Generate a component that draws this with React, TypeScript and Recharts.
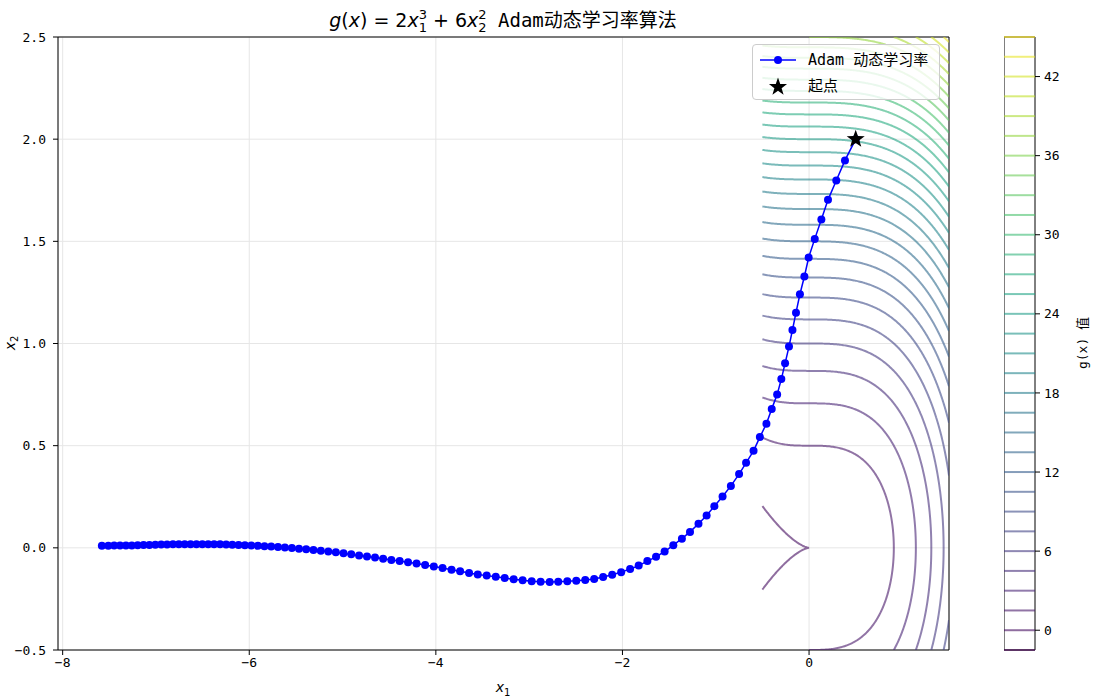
import React from 'react'
import {
  ScatterChart,
  Scatter,
  XAxis,
  YAxis,
  CartesianGrid,
  ReferenceLine,
  ReferenceArea,
  Legend,
  ComposedChart,
} from 'recharts'

// Adam trajectory (x1, x2)
const pathX = [
  0.5, 0.385, 0.292, 0.203, 0.132, 0.061, -0.004, -0.05, -0.098, -0.14, -0.178, -0.215, -0.257, -0.297,
  -0.342, -0.4, -0.457, -0.527, -0.595, -0.675, -0.75, -0.838, -0.927, -1.015, -1.098, -1.185, -1.276,
  -1.363, -1.455, -1.548, -1.64, -1.733, -1.826, -1.918, -2.014, -2.11, -2.207, -2.303, -2.399, -2.495,
  -2.591, -2.688, -2.78, -2.877, -2.973, -3.07, -3.166, -3.262, -3.358, -3.455, -3.551, -3.644, -3.74,
  -3.832, -3.928, -4.022, -4.115, -4.207, -4.298, -4.388, -4.477, -4.565, -4.652, -4.738, -4.823, -4.907,
  -4.99, -5.072, -5.153, -5.233, -5.312, -5.39, -5.467, -5.543, -5.618, -5.692, -5.765, -5.837, -5.908,
  -5.978, -6.047, -6.115, -6.182, -6.248, -6.313, -6.377, -6.44, -6.503, -6.566, -6.629, -6.692, -6.755,
  -6.818, -6.881, -6.944, -7.007, -7.07, -7.133, -7.196, -7.259, -7.322, -7.385, -7.448, -7.511, -7.58,
]
const pathY = [
  2.0, 1.896, 1.798, 1.703, 1.607, 1.512, 1.421, 1.328, 1.241, 1.151, 1.066, 0.985, 0.903, 0.826,
  0.75, 0.68, 0.607, 0.542, 0.475, 0.416, 0.361, 0.303, 0.251, 0.204, 0.158, 0.118, 0.078,
  0.045, 0.013, -0.018, -0.044, -0.065, -0.087, -0.104, -0.119, -0.132, -0.143, -0.152, -0.157, -0.161,
  -0.164, -0.166, -0.167, -0.166, -0.163, -0.159, -0.154, -0.148, -0.142, -0.136, -0.13, -0.123, -0.115,
  -0.107, -0.099, -0.091, -0.084, -0.077, -0.071, -0.065, -0.059, -0.053, -0.047, -0.042, -0.037, -0.032,
  -0.027, -0.022, -0.018, -0.014, -0.01, -0.007, -0.004, -0.001, 0.002, 0.004, 0.006, 0.008, 0.01,
  0.012, 0.013, 0.014, 0.015, 0.016, 0.017, 0.017, 0.018, 0.018, 0.018, 0.018, 0.018, 0.017,
  0.017, 0.016, 0.016, 0.015, 0.014, 0.014, 0.013, 0.012, 0.012, 0.011, 0.011, 0.01, 0.01,
]
const startPoint = [{ x: 0.5, y: 2.0 }]

// contour levels as on the colorbar
const LEVELS = [
  -1.5, 0, 1.5, 3, 4.5, 6, 7.5, 9, 10.5, 12, 13.5, 15, 16.5, 18, 19.5, 21, 22.5, 24, 25.5, 27, 28.5, 30,
  31.5, 33, 34.5, 36, 37.5, 39, 40.5, 42, 43.5, 45,
]
const xTicks = [-8, -6, -4, -2, 0]
const yTicks = [-0.5, 0, 0.5, 1, 1.5, 2, 2.5]
const cbTicks = [0, 6, 12, 18, 24, 30, 36, 42]

// contour grid extent
const X1_MIN = -0.5
const X1_MAX = 1.5
const X2_MIN = -0.5
const X2_MAX = 2.5

const VIRIDIS = ['#440154', '#482475', '#414487', '#355f8d', '#2a788e', '#21918c', '#22a884', '#44bf70', '#7ad151', '#bddf26', '#fde725']

const levelColor = (c: number) => {
  const t = (c - LEVELS[0]) / (LEVELS[LEVELS.length - 1] - LEVELS[0])
  const p = Math.max(0, Math.min(1, t)) * (VIRIDIS.length - 1)
  const i = Math.min(VIRIDIS.length - 2, Math.floor(p))
  const f = p - i
  const a = VIRIDIS[i]
  const b = VIRIDIS[i + 1]
  const ch = (h: string, k: number) => parseInt(h.slice(1 + k * 2, 3 + k * 2), 16)
  const rgb = [0, 1, 2].map((k) => Math.round(ch(a, k) + (ch(b, k) - ch(a, k)) * f))
  return `rgb(${rgb.join(',')})`
}

// level set of g(x) = 2*x1^3 + 6*x2^2, the function named in the title
const contourSegments = (c: number) => {
  if (c + 0.25 <= 0) return []
  const hi = Math.sqrt((c - 2 * X1_MIN ** 3) / 6)
  const lo = c > 2 * X1_MAX ** 3 ? Math.sqrt((c - 2 * X1_MAX ** 3) / 6) : 0
  const ranges: [number, number][] = []
  if (lo === 0) {
    ranges.push([-Math.min(hi, -X2_MIN), Math.min(hi, X2_MAX)])
  } else {
    if (lo < X2_MAX) ranges.push([lo, Math.min(hi, X2_MAX)])
    if (lo < -X2_MIN) ranges.push([-Math.min(hi, -X2_MIN), -lo])
  }
  return ranges.map(([a, b]) => {
    const pts: { x: number; y: number }[] = []
    const n = 160
    for (let i = 0; i < n; i++) {
      const y = a + ((b - a) * i) / (n - 1)
      const x = Math.cbrt((c - 6 * y * y) / 2)
      pts.push({ x: Math.max(X1_MIN, Math.min(X1_MAX, x)), y })
    }
    for (let i = 0; i < n; i++) {
      const x = X1_MIN + ((X1_MAX - X1_MIN) * i) / (n - 1)
      const s = (c - 2 * x ** 3) / 6
      if (s < 0) continue
      const y = Math.sqrt(s)
      if (y >= a && y <= b) pts.push({ x, y })
      if (-y >= a && -y <= b) pts.push({ x, y: -y })
    }
    pts.sort((p, q) => p.y - q.y)
    return pts
  })
}

const contours = LEVELS.flatMap((c) =>
  contourSegments(c).map((pts, j) => ({ key: `${c}-${j}`, color: levelColor(c), pts })),
)

const pathData = pathX.map((x, i) => ({ x, y: pathY[i] }))

const minus = (s: string) => s.replace('-', '\u2212')

const starPoints = (cx: number, cy: number, R: number, r: number) => {
  const pts: string[] = []
  for (let i = 0; i < 10; i++) {
    const rad = i % 2 === 0 ? R : r
    const ang = -Math.PI / 2 + (i * Math.PI) / 5
    pts.push(`${cx + rad * Math.cos(ang)},${cy + rad * Math.sin(ang)}`)
  }
  return pts.join(' ')
}

const tickFont = { fontFamily: "'DejaVu Sans Mono', monospace", fontSize: 13, fill: '#000' }

const LegendBox = () => (
  <div
    style={{
      position: 'relative',
      width: 188,
      height: 56,
      boxSizing: 'border-box',
      background: 'rgba(255,255,255,0.8)',
      border: '1px solid #cccccc',
      borderRadius: 4,
      fontFamily: "'DejaVu Sans Mono', 'Noto Sans CJK SC', sans-serif",
      fontSize: 15,
      color: '#000',
    }}
  >
    <svg width={40} height={56} style={{ position: 'absolute', left: 4, top: 0 }}>
      <line x1={3} x2={39} y1={15} y2={15} stroke="#0000ff" strokeWidth={1.5} />
      <circle cx={21} cy={15} r={4} fill="#0000ff" />
      <polygon points={starPoints(21, 42, 9.5, 3.8)} fill="#000" />
    </svg>
    <span style={{ position: 'absolute', left: 55, top: 5, lineHeight: '20px', whiteSpace: 'nowrap' }}>Adam 动态学习率</span>
    <span style={{ position: 'absolute', left: 55, top: 31, lineHeight: '20px', whiteSpace: 'nowrap' }}>起点</span>
  </div>
)

export default function App() {
  return (
    <div style={{ position: 'absolute', left: 0, top: 0, width: 1105, height: 698, background: '#fff' }}>
      <div style={{ position: 'absolute', left: 0, top: 0 }}>
        <ScatterChart width={960} height={698} margin={{ top: 37, right: 11, bottom: 18, left: 0 }}>
          <CartesianGrid stroke="#e6e6e6" strokeWidth={1} />
          <XAxis
            type="number"
            dataKey="x"
            domain={[-8.05, 1.5]}
            ticks={xTicks}
            allowDataOverflow
            height={30}
            tickSize={5}
            tickMargin={3}
            tick={tickFont}
            tickFormatter={(v: number) => minus(String(v))}
            axisLine={{ stroke: '#000' }}
            tickLine={{ stroke: '#000' }}
          />
          <YAxis
            type="number"
            dataKey="y"
            domain={[-0.5, 2.5]}
            ticks={yTicks}
            allowDataOverflow
            width={58}
            tickSize={5}
            tickMargin={7}
            tick={tickFont}
            tickFormatter={(v: number) => minus(v.toFixed(1))}
            axisLine={{ stroke: '#000' }}
            tickLine={{ stroke: '#000' }}
          />
          <ReferenceLine y={2.5} stroke="#000" />
          <ReferenceLine x={1.5} stroke="#000" />
          {contours.map((c) => (
            <Scatter
              key={c.key}
              data={c.pts}
              line={{ stroke: c.color, strokeWidth: 2, strokeOpacity: 0.6 }}
              shape={() => <g />}
              isAnimationActive={false}
              legendType="none"
            />
          ))}
          <Scatter
            name="Adam 动态学习率"
            data={pathData}
            fill="#0000ff"
            line={{ stroke: '#0000ff', strokeWidth: 1.5 }}
            shape={(p: any) => <circle cx={p.cx} cy={p.cy} r={4} fill="#0000ff" />}
            isAnimationActive={false}
          />
          <Scatter
            name="起点"
            data={startPoint}
            fill="#000"
            shape={(p: any) => <polygon points={starPoints(p.cx, p.cy, 9.5, 3.8)} fill="#000" />}
            isAnimationActive={false}
          />
          <Legend
            layout="vertical"
            align="center"
            verticalAlign="middle"
            content={() => <LegendBox />}
            wrapperStyle={{ position: 'absolute', left: 752, top: 44, width: 188, height: 56 }}
          />
        </ScatterChart>
      </div>

      <div style={{ position: 'absolute', left: 1004, top: 0 }}>
        <ComposedChart width={101} height={698} data={[{ x: 0 }, { x: 1 }]} margin={{ top: 37, right: 0, bottom: 48, left: 0 }}>
          <XAxis type="number" dataKey="x" domain={[0, 1]} hide />
          <YAxis
            type="number"
            orientation="right"
            domain={[LEVELS[0], LEVELS[LEVELS.length - 1]]}
            allowDataOverflow
            ticks={cbTicks}
            width={70}
            tickSize={5}
            tickMargin={4}
            tick={tickFont}
            axisLine={false}
            tickLine={{ stroke: '#000' }}
          />
          {LEVELS.map((c) => (
            <ReferenceLine key={c} y={c} stroke={levelColor(c)} strokeWidth={2} strokeOpacity={0.6} />
          ))}
          <ReferenceArea x1={0} x2={1} y1={LEVELS[0]} y2={LEVELS[LEVELS.length - 1]} fill="none" stroke="#000" strokeWidth={1} />
        </ComposedChart>
      </div>

      <svg width={1105} height={698} style={{ position: 'absolute', left: 0, top: 0, pointerEvents: 'none' }}>
        <text x={503} y={27} textAnchor="middle" fontFamily="'DejaVu Sans', sans-serif" fontSize={19} fill="#000">
          <tspan fontStyle="italic">g</tspan>(<tspan fontStyle="italic">x</tspan>) = 2<tspan fontStyle="italic">x</tspan>
          <tspan fontSize={13} dy={-8}>3</tspan>
          <tspan fontSize={13} dx={-8.3} dy={13}>1</tspan>
          <tspan dy={-5}> + 6</tspan>
          <tspan fontStyle="italic">x</tspan>
          <tspan fontSize={13} dy={-8}>2</tspan>
          <tspan fontSize={13} dx={-8.3} dy={13}>2</tspan>
          <tspan dy={-5} fontFamily="'DejaVu Sans Mono', 'Noto Sans CJK SC', sans-serif">{'  Adam动态学习率算法'}</tspan>
        </text>
        <text x={503} y={692} textAnchor="middle" fontFamily="'DejaVu Sans', sans-serif" fontSize={14} fill="#000">
          <tspan fontStyle="italic">x</tspan>
          <tspan fontSize={10} dy={4}>1</tspan>
        </text>
        <text transform="translate(15,343) rotate(-90)" textAnchor="middle" fontFamily="'DejaVu Sans', sans-serif" fontSize={14} fill="#000">
          <tspan fontStyle="italic">x</tspan>
          <tspan fontSize={10} dy={3}>2</tspan>
        </text>
        <text
          transform="translate(1087,343) rotate(-90)"
          textAnchor="middle"
          fontFamily="'DejaVu Sans Mono', 'Noto Sans CJK SC', sans-serif"
          fontSize={13}
          fill="#000"
        >
          g(x) 值
        </text>
      </svg>
    </div>
  )
}
